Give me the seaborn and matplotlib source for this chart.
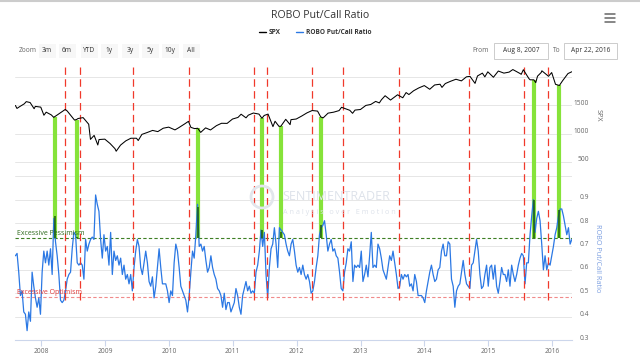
import pandas as pd
import matplotlib.pyplot as plt
import matplotlib.transforms as mtransforms
from matplotlib.lines import Line2D
from matplotlib.patches import Rectangle, Circle
import seaborn as sns

# ---- values ----
# ROBO put/call ratio, roughly every 9-10 days from Aug 8 2007 to Apr 22 2016
ratio_values = [
    0.66, 0.67, 0.59, 0.49, 0.51, 0.42, 0.41, 0.34, 0.42, 0.38,
    0.59, 0.53, 0.48, 0.44, 0.48, 0.41, 0.59, 0.68, 0.63, 0.68,
    0.62, 0.69, 0.58, 0.82, 0.72, 0.66, 0.58, 0.47, 0.46, 0.47,
    0.51, 0.56, 0.58, 0.59, 0.69, 0.76, 0.75, 0.63, 0.62, 0.63,
    0.62, 0.56, 0.73, 0.68, 0.71, 0.73, 0.74, 0.73, 0.92, 0.88,
    0.85, 0.73, 0.65, 0.75, 0.68, 0.70, 0.62, 0.76, 0.58, 0.68,
    0.64, 0.66, 0.62, 0.65, 0.58, 0.62, 0.56, 0.58,
    0.54, 0.58, 0.51, 0.61, 0.68, 0.73, 0.70, 0.61, 0.58, 0.63,
    0.68, 0.63, 0.55, 0.53, 0.57, 0.48, 0.53, 0.61, 0.69, 0.61,
    0.54, 0.54, 0.54, 0.51, 0.46, 0.51, 0.49, 0.63, 0.71, 0.68,
    0.61, 0.53, 0.51, 0.49, 0.47, 0.42, 0.49, 0.59, 0.68, 0.65,
    0.75, 0.88, 0.70, 0.71, 0.68, 0.70, 0.64, 0.59, 0.61, 0.66,
    0.61, 0.58, 0.56, 0.52, 0.51, 0.49, 0.44, 0.50, 0.43, 0.46,
    0.46, 0.42, 0.44, 0.46, 0.52, 0.49,
    0.44, 0.41, 0.49, 0.52, 0.55, 0.51, 0.53, 0.50, 0.51, 0.50,
    0.59, 0.62, 0.68, 0.77, 0.70, 0.76, 0.58, 0.48, 0.61, 0.69,
    0.71, 0.78, 0.71, 0.61, 0.78, 0.77, 0.76, 0.75, 0.71, 0.68,
    0.66, 0.71, 0.73, 0.68, 0.62, 0.59, 0.61, 0.58, 0.62, 0.58,
    0.56, 0.58, 0.55, 0.50, 0.51, 0.55, 0.61, 0.66, 0.75, 0.78,
    0.79, 0.81, 0.75, 0.68, 0.71, 0.73, 0.68, 0.69, 0.66, 0.65,
    0.59, 0.52, 0.51, 0.59, 0.63, 0.69,
    0.68, 0.72, 0.55, 0.62, 0.61, 0.62, 0.61, 0.68, 0.55, 0.58,
    0.62, 0.57, 0.66, 0.76, 0.61, 0.62, 0.61, 0.71, 0.69, 0.65,
    0.60, 0.58, 0.56, 0.61, 0.66, 0.64, 0.68, 0.63, 0.58, 0.52,
    0.53, 0.58, 0.56, 0.58, 0.57, 0.58, 0.53, 0.54, 0.51, 0.58,
    0.55, 0.49, 0.49, 0.49, 0.48, 0.46, 0.51, 0.55, 0.59, 0.62,
    0.58, 0.55, 0.56, 0.60, 0.61, 0.68, 0.71, 0.66, 0.66, 0.72,
    0.71, 0.56, 0.53, 0.44, 0.51, 0.53,
    0.54, 0.59, 0.64, 0.58, 0.54, 0.53, 0.52, 0.62, 0.63, 0.68,
    0.73, 0.68, 0.58, 0.52, 0.53, 0.58, 0.62, 0.53, 0.61, 0.62,
    0.56, 0.62, 0.53, 0.50, 0.55, 0.61, 0.58, 0.58, 0.55, 0.60,
    0.53, 0.62, 0.58, 0.55, 0.58, 0.62, 0.65, 0.67, 0.66, 0.54,
    0.63, 0.63, 0.75, 0.83, 0.90, 0.76, 0.82, 0.85, 0.81, 0.71,
    0.60, 0.66, 0.60, 0.63, 0.62, 0.66, 0.70, 0.75, 0.78, 0.83,
    0.86, 0.86, 0.83, 0.79, 0.75, 0.78, 0.71, 0.73,
]

spx_dates = [
    "2007-08-08", "2007-08-17", "2007-08-31", "2007-09-28", "2007-10-09", "2007-10-31",
    "2007-11-23", "2007-11-30", "2007-12-31", "2008-01-18", "2008-01-31", "2008-02-29",
    "2008-03-14", "2008-03-20", "2008-03-31", "2008-04-30", "2008-05-19", "2008-05-30",
    "2008-06-30", "2008-07-11", "2008-07-24", "2008-07-31", "2008-08-29", "2008-09-30",
    "2008-10-10", "2008-10-31", "2008-11-21", "2008-11-28", "2008-12-31", "2009-01-30",
    "2009-02-27", "2009-03-06", "2009-03-31", "2009-04-30", "2009-05-29", "2009-06-30",
    "2009-07-10", "2009-07-31", "2009-08-31", "2009-09-30", "2009-10-30", "2009-11-30",
    "2009-12-31", "2010-01-29", "2010-02-05", "2010-02-26", "2010-03-31", "2010-04-23",
    "2010-05-07", "2010-05-28", "2010-06-15", "2010-06-30", "2010-07-02", "2010-07-30",
    "2010-08-27", "2010-09-30", "2010-10-29", "2010-11-30", "2010-12-31", "2011-01-31",
    "2011-02-18", "2011-03-18", "2011-03-31", "2011-04-29", "2011-05-31", "2011-06-17",
    "2011-06-30", "2011-07-22", "2011-08-19", "2011-08-31", "2011-09-22", "2011-10-03",
    "2011-10-31", "2011-11-25", "2011-11-30", "2011-12-30", "2012-01-31", "2012-02-29",
    "2012-03-30", "2012-04-30", "2012-05-18", "2012-06-01", "2012-06-29", "2012-07-31",
    "2012-08-31", "2012-09-14", "2012-10-31", "2012-11-16", "2012-11-30", "2012-12-31",
    "2013-01-31", "2013-02-28", "2013-03-28", "2013-04-18", "2013-04-30", "2013-05-21",
    "2013-06-21", "2013-07-31", "2013-08-30", "2013-09-18", "2013-10-04", "2013-10-31",
    "2013-11-29", "2013-12-31", "2014-01-31", "2014-02-28", "2014-03-31", "2014-04-11",
    "2014-04-30", "2014-05-30", "2014-06-30", "2014-07-31", "2014-08-29", "2014-09-18",
    "2014-10-17", "2014-10-31", "2014-11-28", "2014-12-12", "2014-12-29", "2015-01-30",
    "2015-02-27", "2015-03-31", "2015-04-30", "2015-05-21", "2015-06-30", "2015-07-08",
    "2015-07-20", "2015-08-21", "2015-08-28", "2015-09-18", "2015-09-29", "2015-10-09",
    "2015-10-30", "2015-11-03", "2015-12-11", "2015-12-29", "2016-01-20", "2016-02-11",
    "2016-02-29", "2016-03-31", "2016-04-22",
]
spx_values = [
    1497, 1445, 1474, 1527, 1565, 1549,
    1440, 1481, 1468, 1325, 1379, 1331,
    1288, 1300, 1323, 1386, 1427, 1400,
    1280, 1239, 1252, 1267, 1283, 1166,
    899, 969, 800, 896, 903, 826,
    735, 690, 798, 873, 919, 919,
    879, 987, 1021, 1057, 1036, 1096,
    1115, 1074, 1066, 1104, 1169, 1217,
    1111, 1089, 1095, 1031, 1022, 1102,
    1065, 1141, 1183, 1181, 1258, 1286,
    1343, 1279, 1326, 1364, 1345, 1271,
    1321, 1345, 1124, 1219, 1130, 1130,
    1253, 1159, 1247, 1258, 1312, 1366,
    1408, 1398, 1295, 1278, 1362, 1379,
    1407, 1465, 1412, 1359, 1416, 1426,
    1498, 1515, 1569, 1542, 1598, 1669,
    1593, 1686, 1633, 1725, 1690, 1757,
    1806, 1848, 1783, 1859, 1872, 1816,
    1884, 1924, 1960, 1931, 2003, 2011,
    1887, 2018, 2068, 2002, 2091, 1995,
    2105, 2068, 2086, 2131, 2063, 2047,
    2128, 1971, 1950, 1950, 1900, 2014,
    2079, 2109, 2012, 2078, 1870, 1850,
    1932, 2060, 2092,
]

# green "excessive pessimism" signals: date, SPX level at bar top, ratio peak
green_dates = ["2008-03-20", "2008-07-24", "2010-06-15", "2011-06-17",
               "2011-10-03", "2012-05-22", "2015-09-18", "2016-02-09"]
green_spx = [1295, 1245, 1095, 1271, 1130, 1290, 1950, 1855]
green_peak = [0.83, 0.74, 0.87, 0.77, 0.76, 0.79, 0.90, 0.855]

# red "excessive optimism" signals
red_dates = ["2008-05-17", "2008-08-11", "2009-06-10", "2010-04-26", "2011-05-02",
             "2011-07-15", "2012-03-28", "2012-09-22", "2013-08-08", "2014-09-12",
             "2015-07-23", "2015-12-07"]
red_bottom = 0.47

pessimism_level = 0.735
optimism_level = 0.485
years = list(range(2008, 2017))
ratio_ticks = [0.3, 0.4, 0.5, 0.6, 0.7, 0.8, 0.9]
spx_ticks = [500, 1000, 1500]

start, end = pd.Timestamp("2007-08-08"), pd.Timestamp("2016-04-22")
ratio_df = pd.DataFrame({"date": pd.date_range(start, end, periods=len(ratio_values)),
                         "ratio": ratio_values})
spx_df = pd.DataFrame({"date": pd.to_datetime(spx_dates), "spx": spx_values})

# both panes share one plot area: ratio lives in the bottom, SPX in the top
RATIO_LIM = (0.3, 1.467)
SPX_LIM = (-2641, 2176)


def spx_to_ratio(v):
    return RATIO_LIM[0] + (v - SPX_LIM[0]) / (SPX_LIM[1] - SPX_LIM[0]) * (RATIO_LIM[1] - RATIO_LIM[0])


def fx(px):
    return px / 640


def fy(py):
    return 1 - py / 358


sns.set_theme(style="white")
plt.rcParams["font.family"] = ["Open Sans", "DejaVu Sans"]

fig = plt.figure(figsize=(6.4, 3.58), dpi=100)
ax = fig.add_axes([fx(15.4), fy(340), fx(556.4), 273 / 358])
ax2 = ax.twinx()

# grid
for v in [0.4, 0.5, 0.6, 0.7, 0.8, 0.9, 1.0]:
    ax.axhline(v, color="#e6e6e6", lw=0.7, zorder=0)
for v in [500, 1000, 1500, 2000]:
    ax.axhline(spx_to_ratio(v), color="#e6e6e6", lw=0.7, zorder=0)

# signal bars
g_dates = pd.to_datetime(green_dates)
ax.vlines(g_dates, pessimism_level, [spx_to_ratio(v) for v in green_spx],
          color="#86e33a", lw=3.0, zorder=1)
ax.vlines(pd.to_datetime(red_dates), red_bottom, RATIO_LIM[1], color="#f0392b",
          lw=0.9, linestyles=(0, (6, 3.5)), zorder=6)

# threshold lines
ax.axhline(pessimism_level, color="#3d7f24", lw=0.8, ls=(0, (3, 2)), zorder=2)
ax.axhline(optimism_level, color="#f08a8a", lw=0.8, ls=(0, (3, 2)), zorder=2)

sns.lineplot(data=ratio_df, x="date", y="ratio", ax=ax, color="#2b78e4",
             lw=0.9, estimator=None, zorder=3)
ax.vlines(g_dates, pessimism_level, green_peak, color="#1b5a0c", lw=1.1, zorder=4)

sns.lineplot(data=spx_df, x="date", y="spx", ax=ax2, color="black",
             lw=0.75, estimator=None)

ax.text(0.003, pessimism_level + 0.004, "Excessive Pessimism", transform=ax.get_yaxis_transform(),
        fontsize=5, color="#2f6b1e", va="bottom", zorder=7)
ax.text(0.003, optimism_level + 0.004, "Excessive Optimism", transform=ax.get_yaxis_transform(),
        fontsize=5, color="#e03a3a", va="bottom", zorder=7)

# axes
ax.set_xlim(start, end)
ax.set_ylim(RATIO_LIM)
ax2.set_ylim(SPX_LIM)
ax.set_xlabel("")
ax.set_ylabel("")
ax2.set_ylabel("")

ax.set_xticks([pd.Timestamp(f"{y}-01-01") for y in years])
ax.set_xticklabels([str(y) for y in years])
ax.tick_params(axis="x", bottom=True, length=4, width=0.8, color="#ccd6eb",
               labelsize=4.8, labelcolor="#666666", pad=2)

ax.yaxis.tick_right()
ax.set_yticks(ratio_ticks)
ax.set_yticklabels([f"{v:.1f}" for v in ratio_ticks])
ax2.set_yticks(spx_ticks)
ax2.set_yticklabels([str(v) for v in spx_ticks])
shift = mtransforms.ScaledTranslation(0, 0.03, fig.dpi_scale_trans)
for a in (ax, ax2):
    a.tick_params(axis="y", right=True, left=False, length=0, pad=12.3,
                  labelsize=4.8, labelcolor="#666666")
    for lbl in a.get_yticklabels():
        lbl.set_horizontalalignment("right")
        lbl.set_transform(lbl.get_transform() + shift)
    for s in a.spines.values():
        s.set_visible(False)
ax.spines["bottom"].set_visible(True)
ax.spines["bottom"].set_color("#ccd6eb")
ax.spines["bottom"].set_linewidth(0.8)
ax.patch.set_alpha(0)

fig.text(fx(598), fy(115), "SPX", rotation=270, ha="center", va="center",
         fontsize=5.2, color="#666666")
fig.text(fx(597), fy(258), "ROBO Put/Call Ratio", rotation=270, ha="center", va="center",
         fontsize=5.2, color="#7b9ee0")

# watermark
fig.patches.append(Circle((2.62, (358 - 197) / 100), 0.11, transform=fig.dpi_scale_trans,
                          fill=False, ec="#e2e6ec", lw=2.0, zorder=0))
fig.text(fx(282), fy(197), "SENTIMENTRADER", fontsize=9, color="#dde2ea", va="center", zorder=0)
fig.text(fx(283), fy(213), "A n a l y s i s   o v e r   E m o t i o n", fontsize=5.2,
         color="#dde2ea", va="center", zorder=0)

# header: title, legend, range selector
fig.add_artist(Line2D([0, 1], [fy(0.6)] * 2, color="#cccccc", lw=1.5))
fig.text(fx(320), fy(15), "ROBO Put/Call Ratio", ha="center", va="center",
         fontsize=7.6, color="#333333")
fig.add_artist(Line2D([fx(259), fx(266)], [fy(32)] * 2, color="black", lw=1))
fig.text(fx(269), fy(32), "SPX", fontsize=4.7, weight="bold", va="center", color="#333333")
fig.add_artist(Line2D([fx(296), fx(303)], [fy(32)] * 2, color="#2b78e4", lw=1))
fig.text(fx(306), fy(32), "ROBO Put/Call Ratio", fontsize=4.7, weight="bold", va="center",
         color="#333333")

for y in (14, 18, 22):
    fig.add_artist(Line2D([fx(605), fx(615)], [fy(y)] * 2, color="#666666", lw=1.1))

fig.text(fx(28), fy(51), "Zoom", ha="center", va="center", fontsize=4.8, color="#666666")
buttons = ["3m", "6m", "YTD", "1y", "3y", "5y", "10y", "All"]
centers = [47, 67, 89, 109, 130, 150, 170, 191]
for label, cx in zip(buttons, centers):
    fig.patches.append(Rectangle((fx(cx - 8.5), fy(58)), fx(17), 14 / 358,
                                 transform=fig.transFigure, fc="#f7f7f7", ec="none"))
    fig.text(fx(cx), fy(51), label, ha="center", va="center", fontsize=4.8, color="#333333")

fig.text(fx(481), fy(51), "From", ha="center", va="center", fontsize=4.8, color="#666666")
fig.patches.append(Rectangle((fx(494), fy(59)), fx(54), 16 / 358, transform=fig.transFigure,
                             fc="white", ec="#cccccc", lw=0.7))
fig.text(fx(521), fy(51), "Aug 8, 2007", ha="center", va="center", fontsize=4.8, color="#333333")
fig.text(fx(557), fy(51), "To", ha="center", va="center", fontsize=4.8, color="#666666")
fig.patches.append(Rectangle((fx(564), fy(59)), fx(53), 16 / 358, transform=fig.transFigure,
                             fc="white", ec="#cccccc", lw=0.7))
fig.text(fx(590.5), fy(51), "Apr 22, 2016", ha="center", va="center", fontsize=4.8, color="#333333")

fig.savefig("out.png", dpi=100)
